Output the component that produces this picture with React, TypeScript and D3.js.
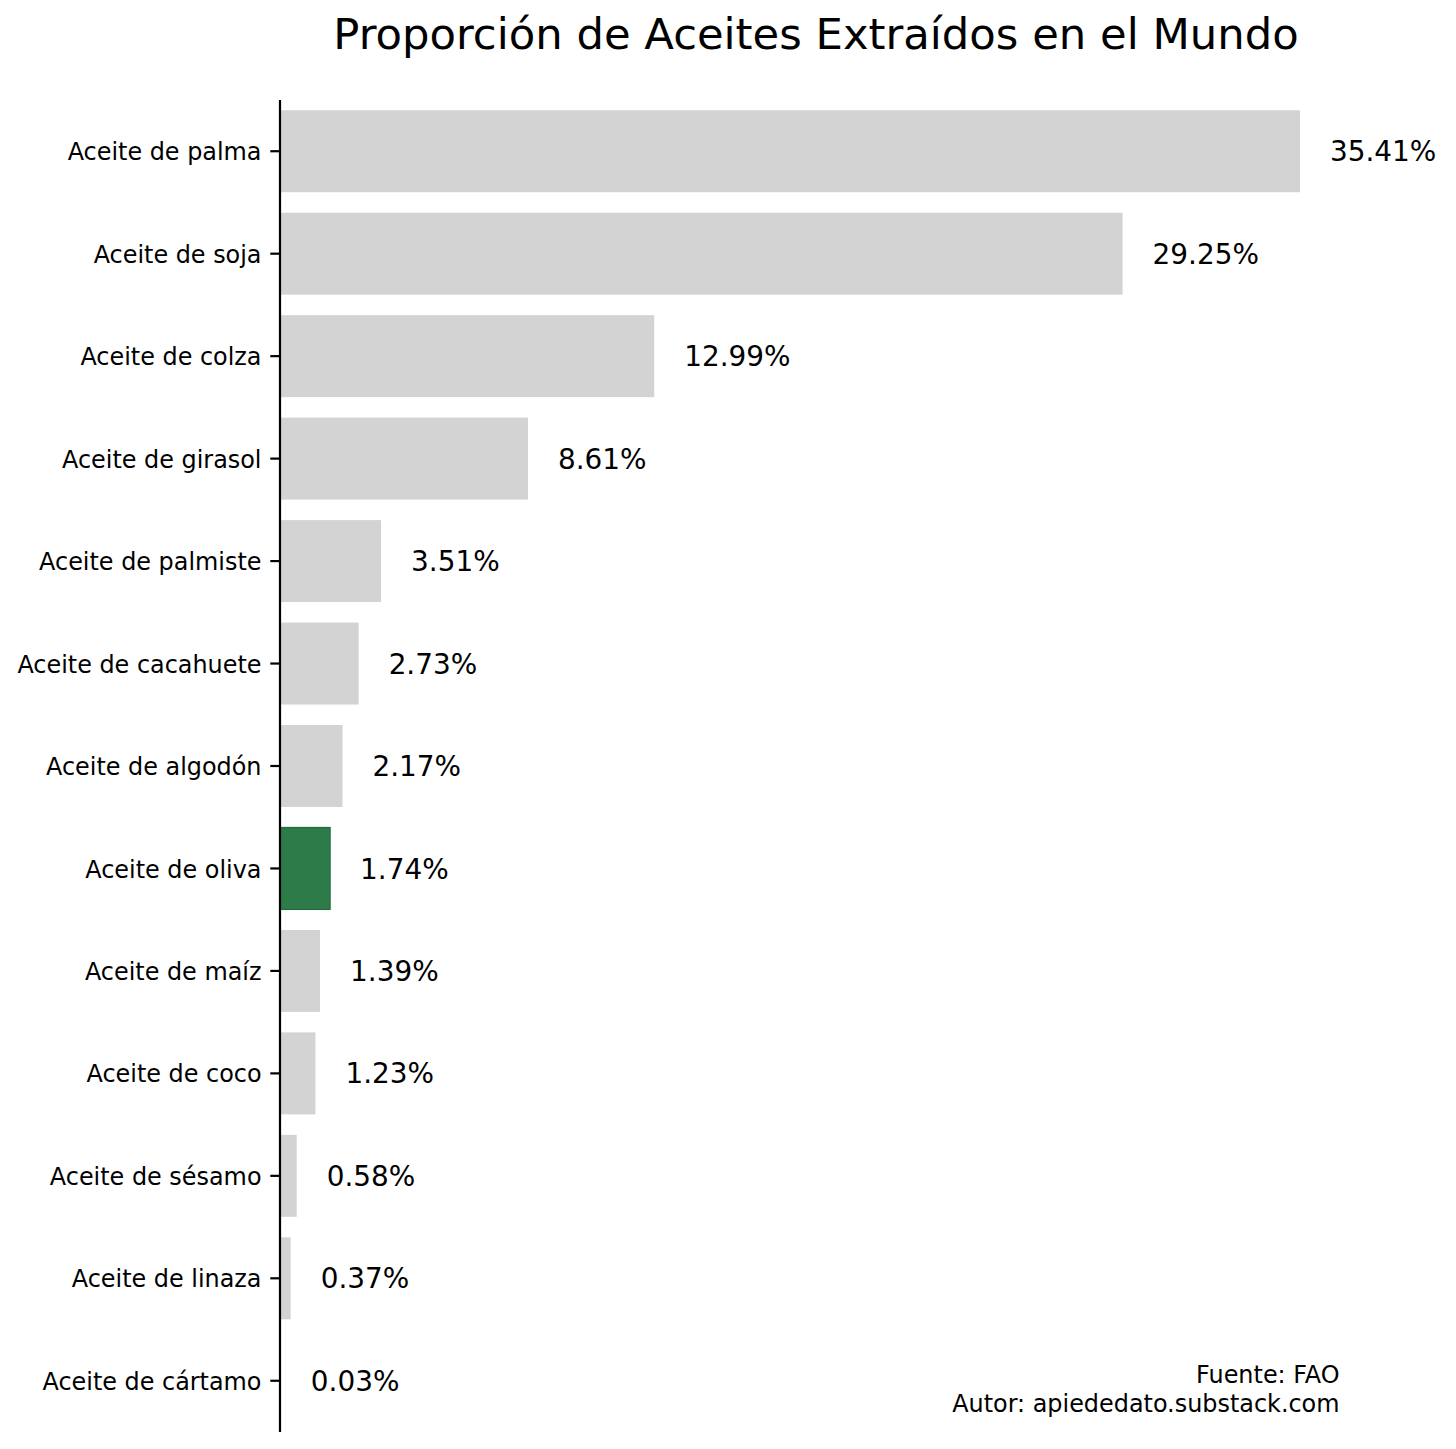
import React from "react";
import * as d3 from "d3";

const categories = [
  "Aceite de palma",
  "Aceite de soja",
  "Aceite de colza",
  "Aceite de girasol",
  "Aceite de palmiste",
  "Aceite de cacahuete",
  "Aceite de algodón",
  "Aceite de oliva",
  "Aceite de maíz",
  "Aceite de coco",
  "Aceite de sésamo",
  "Aceite de linaza",
  "Aceite de cártamo",
];
const values = [35.41, 29.25, 12.99, 8.61, 3.51, 2.73, 2.17, 1.74, 1.39, 1.23, 0.58, 0.37, 0.03];
const highlighted = "Aceite de oliva";
const title = "Proporción de Aceites Extraídos en el Mundo";
const sourceLines = ["Fuente: FAO", "Autor: apiededato.substack.com"];

const W = 1456;
const H = 1449;
const left = 280;
const right = 1352;
const top = 100;
const bottom = 1432;
const font = "'DejaVu Sans', sans-serif";

export default function App() {
  const x = d3.scaleLinear().domain([0, 35.41]).range([left, 1300]);
  const y = d3
    .scaleBand<string>()
    .domain(categories)
    .range([top, bottom])
    .paddingInner(0.2)
    .paddingOuter(0.1);

  return (
    <div style={{ position: "absolute", left: 0, top: 0 }}>
      <svg width={W} height={H} style={{ display: "block", background: "#fff" }}>
        <text
          x={(left + right) / 2}
          y={49}
          textAnchor="middle"
          fontFamily={font}
          fontSize={43.3}
          fill="#000"
        >
          {title}
        </text>
        {categories.map((c, i) => {
          const v = values[i];
          const isH = c === highlighted;
          const by = y(c) as number;
          const cy = by + y.bandwidth() / 2;
          return (
            <g key={c}>
              <rect
                x={x(0)}
                y={by}
                width={x(v) - x(0)}
                height={y.bandwidth()}
                fill={isH ? "#2e7b4a" : "#d3d3d3"}
                stroke={isH ? "#236b3b" : "none"}
                strokeWidth={isH ? 1.2 : 0}
              />
              <text
                x={x(v) + 30}
                y={cy}
                dy="0.36em"
                fontFamily={font}
                fontSize={27.9}
                fill="#000"
              >
                {v.toFixed(2) + "%"}
              </text>
              <line x1={left - 9.7} x2={left} y1={cy} y2={cy} stroke="#000" strokeWidth={2.2} />
              <text
                x={left - 18.5}
                y={cy}
                dy="0.38em"
                textAnchor="end"
                fontFamily={font}
                fontSize={23.9}
                fill="#000"
              >
                {c}
              </text>
            </g>
          );
        })}
        <line x1={left} x2={left} y1={top} y2={bottom} stroke="#000" strokeWidth={2.2} />
        {sourceLines.map((s, i) => (
          <text
            key={s}
            x={1339.5}
            y={1383 + i * 29}
            textAnchor="end"
            fontFamily={font}
            fontSize={23.9}
            fill="#000"
          >
            {s}
          </text>
        ))}
      </svg>
    </div>
  );
}
